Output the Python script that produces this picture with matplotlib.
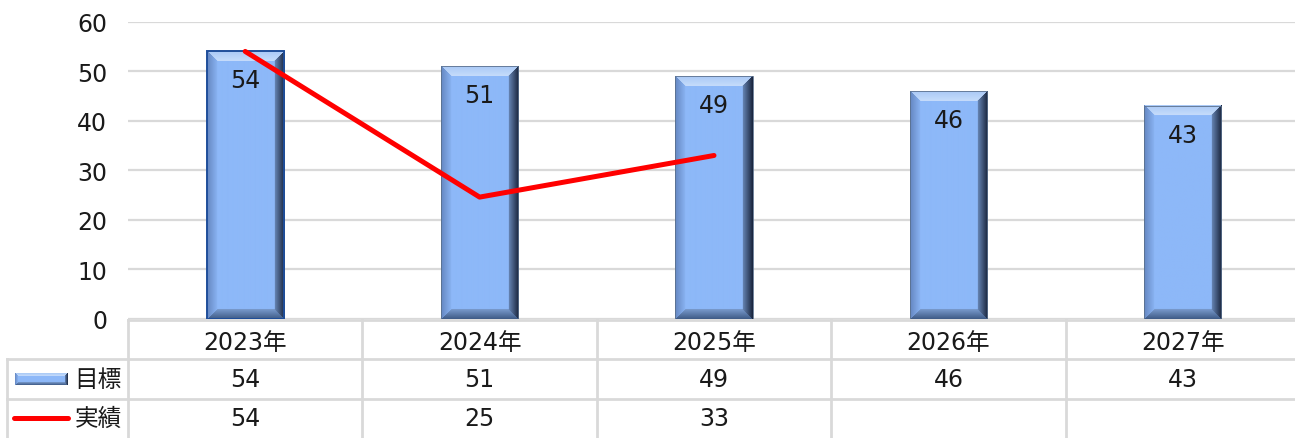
import matplotlib.pyplot as plt
import numpy as np
from matplotlib.colors import to_rgb

plt.rcParams['font.family'] = ['DejaVu Sans', 'Noto Sans CJK JP']

years = ['2023年', '2024年', '2025年', '2026年', '2027年']
target = [54, 51, 49, 46, 43]
actual = [54, 24.6, 33]
row_names = ['目標', '実績']

face = to_rgb('#8db8f8')
grid_col = '#d9d9d9'
txt_col = '#1a1a1a'
fs = 17


def bevel_image(wpx, hpx, b):
    # frame bevel: each pixel takes the shade of its nearest edge
    u = np.arange(wpx) + 0.5
    v = np.arange(hpx) + 0.5
    U, V = np.meshgrid(u, v)
    d = np.stack([U, wpx - U, V, hpx - V])       # left, right, top, bottom
    side = d.argmin(axis=0)
    t = np.clip(d.min(axis=0) / b, 0, 1)[..., None]
    edge = np.array([to_rgb('#6486c0'), to_rgb('#18233a'),
                     to_rgb('#a9c9f6'), to_rgb('#3d5a86')])
    inner = np.array([to_rgb('#88b2f1'), to_rgb('#6685b4'),
                      to_rgb('#c6dcfb'), to_rgb('#7a9bcd')])
    img = edge[side] * (1 - t) + inner[side] * t
    img[t[..., 0] >= 1] = face
    return img


fig = plt.figure(figsize=(12.95, 4.39), dpi=100)
W, H = 1295, 439
ax = fig.add_axes([128 / W, (H - 320) / H, (1300 - 128) / W, (320 - 22.7) / H])
x = np.arange(len(years))
ax.set_yticks(np.arange(0, 61, 10))
ax.set_xticks([])
ax.tick_params(axis='y', length=0, pad=15, labelsize=fs, labelcolor=txt_col)
for s in ax.spines.values():
    s.set_visible(False)
ax.grid(axis='y', color=grid_col, lw=1.6, zorder=0)
ax.set_axisbelow(True)
ax.set_xlim(-0.5, len(years) - 0.5)
ax.set_ylim(0, 60)

bars = ax.bar(x, target, width=0.33, color='none', zorder=2)
to_px = ax.transData
for i, (r, val) in enumerate(zip(bars, target)):
    x0, x1 = r.get_x(), r.get_x() + r.get_width()
    (p0x, p0y), (p1x, p1y) = to_px.transform([(x0, 0), (x1, val)])
    img = bevel_image(int(round(p1x - p0x)), int(round(p1y - p0y)), 10)
    ax.imshow(img, extent=(x0, x1, 0, val), aspect='auto', zorder=2,
              interpolation='bilinear')
    ec = '#1f4e9a' if i == 0 else '#5a6f8c'
    ax.add_patch(plt.Rectangle((x0, 0), r.get_width(), val, fill=False,
                               ec=ec, lw=1.4 if i == 0 else 0.6, zorder=3))
    ax.annotate(f'{val}', (x[i], val), xytext=(0, -29), textcoords='offset pixels',
                ha='center', va='center', fontsize=fs, color=txt_col, zorder=4)
ax.set_xlim(-0.5, len(years) - 0.5)
ax.set_ylim(0, 60)

ax.plot(x[:len(actual)], actual, color='#ff0000', lw=3.6,
        solid_capstyle='round', solid_joinstyle='round', zorder=5)

# data table under the plot
tab = fig.add_axes([128 / W, 0, (1300 - 128) / W, 118 / H])
tab.axis('off')
col_w = 234.4
left = -0.5 - (128 - 7) / col_w
kw = dict(color=grid_col, lw=2, clip_on=False)
tab.plot([-0.5, len(years) - 0.5], [0, 0], **kw)
for r_ in (1, 2):
    tab.plot([left, len(years) - 0.5], [r_, r_], **kw)
for k in range(len(years) + 1):
    tab.plot([k - 0.5, k - 0.5], [0, 3], **kw)
tab.plot([left, left], [1, 3], **kw)

for i, yr in enumerate(years):
    tab.text(i, 0.55, yr, ha='center', va='center', fontsize=fs, color=txt_col)
for i, v in enumerate(target):
    tab.text(i, 1.5, f'{v:.0f}', ha='center', va='center', fontsize=fs, color=txt_col)
for i, v in enumerate(actual):
    tab.text(i, 2.5, f'{v:.0f}', ha='center', va='center', fontsize=fs, color=txt_col)

for r_, name in enumerate(row_names):
    tab.text(-0.5 - 6 / col_w, 1.5 + r_, name, ha='right', va='center',
             fontsize=fs, color=txt_col, clip_on=False)

# legend keys
kx0 = -0.5 - (128 - 15) / col_w
kx1 = -0.5 - (128 - 68) / col_w
icon = bevel_image(53, 12, 3)
tab.imshow(icon, extent=(kx0, kx1, 1.5 + 0.15, 1.5 - 0.15), aspect='auto',
           clip_on=False, interpolation='bilinear')
tab.plot([-0.5 - (128 - 14) / col_w, kx1], [2.5, 2.5], color='#ff0000', lw=3.6,
         solid_capstyle='round', clip_on=False)
tab.set_xlim(-0.5, len(years) - 0.5)
tab.set_ylim(3, 0)

fig.savefig('out.png', dpi=100)
